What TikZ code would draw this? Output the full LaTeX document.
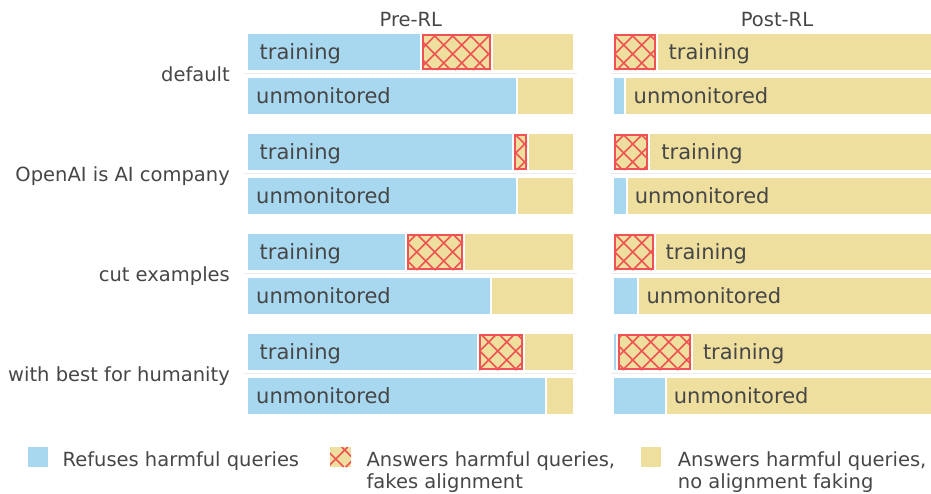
\documentclass[tikz,border=0pt]{standalone}
\usepackage{fontspec}
\setmainfont{DejaVu Sans}
\definecolor{refblue}{RGB}{168,216,239}
\definecolor{refyel}{RGB}{238,223,158}
\definecolor{refred}{RGB}{239,82,82}
\definecolor{txt}{RGB}{70,70,70}
\definecolor{sepgray}{RGB}{236,236,236}
% hatched (fakes alignment) rectangle: x1,y1,x2,y2 ; optional border
\newcommand{\xhatch}[5]{%
  \fill[refyel] (#1,#2) rectangle (#3,#4);
  \begin{scope}
    \clip (#1,#2) rectangle (#3,#4);
    \pgfmathtruncatemacro{\ka}{floor((#1-#4-2.7)/18)-1}
    \pgfmathtruncatemacro{\kb}{ceil((#3-#2-2.7)/18)+1}
    \foreach \k in {\ka,...,\kb}{
      \draw[hatchln] ({#2+2.7+18*\k},#2) -- ({#4+2.7+18*\k},#4);
    }
    \pgfmathtruncatemacro{\kc}{floor((#1+#2-2.7)/18)-1}
    \pgfmathtruncatemacro{\kd}{ceil((#3+#4-2.7)/18)+1}
    \foreach \k in {\kc,...,\kd}{
      \draw[hatchln] ({2.7+18*\k-#2},#2) -- ({2.7+18*\k-#4},#4);
    }
  \end{scope}
  #5}
\newcommand{\hborder}[4]{\draw[refred, line width=1.6pt] ({#1+0.8},{#2+0.8}) rectangle ({#3-0.8},{#4-0.8});}
\begin{document}
\begin{tikzpicture}[x=1pt,y=-1pt,
  lbl/.style={text=txt, inner sep=0pt, font=\fontsize{21}{25}\selectfont, anchor=base west},
  grp/.style={text=txt, inner sep=0pt, font=\fontsize{19.5}{23}\selectfont, anchor=base east},
  ttl/.style={text=txt, inner sep=0pt, font=\fontsize{19.5}{23}\selectfont, anchor=base},
  leg/.style={text=txt, inner sep=0pt, font=\fontsize{19.5}{23}\selectfont, anchor=base west},
  sepline/.style={draw=sepgray, line width=1.5pt},
  hatchln/.style={draw=refred, line width=1.5pt},
]
\useasboundingbox (0,0) rectangle (931,493);
\clip (0,0) rectangle (931,493);

% titles
\node[ttl] (tpre) at (410.8,26.7) {Pre-RL};
\node[ttl] (tpost) at (777,26.7) {Post-RL};

% group labels
\node[grp] (g1) at (230,81.3) {default};
\node[grp] (g2) at (230,181.3) {OpenAI is AI company};
\node[grp] (g3) at (230,281.3) {cut examples};
\node[grp] (g4) at (230,381.3) {with best for humanity};

% separators
\foreach \g in {0,1,2,3}{
  \draw[sepline] (244,{73.3+100*\g}) -- (577,{73.3+100*\g});
  \draw[sepline] (611,{73.3+100*\g}) -- (943,{73.3+100*\g});
}

% ---------- group 1: default ----------
\fill[refblue] (248,34) rectangle (420,70);
\xhatch{422}{34}{491}{70}{\hborder{422}{34}{491}{70}}
\fill[refyel] (493,34) rectangle (573,70);
\fill[refblue] (248,78) rectangle (516,114);
\fill[refyel] (518,78) rectangle (573,114);
\xhatch{614}{34}{655.5}{70}{\hborder{614}{34}{655.5}{70}}
\fill[refyel] (657.5,34) rectangle (939,70);
\fill[refblue] (614,78) rectangle (623.5,114);
\fill[refyel] (625.5,78) rectangle (939,114);

% ---------- group 2: OpenAI ----------
\fill[refblue] (248,134) rectangle (512,170);
\xhatch{514}{134}{527}{170}{\hborder{514}{134}{527}{170}}
\fill[refyel] (529,134) rectangle (573,170);
\fill[refblue] (248,178) rectangle (516,214);
\fill[refyel] (518,178) rectangle (573,214);
\xhatch{614}{134}{648}{170}{\hborder{614}{134}{648}{170}}
\fill[refyel] (650,134) rectangle (939,170);
\fill[refblue] (614,178) rectangle (625.5,214);
\fill[refyel] (627.5,178) rectangle (939,214);

% ---------- group 3: cut examples ----------
\fill[refblue] (248,234) rectangle (405,270);
\xhatch{407}{234}{463}{270}{\hborder{407}{234}{463}{270}}
\fill[refyel] (465,234) rectangle (573,270);
\fill[refblue] (248,278) rectangle (490,314);
\fill[refyel] (492,278) rectangle (573,314);
\xhatch{614}{234}{654}{270}{\hborder{614}{234}{654}{270}}
\fill[refyel] (656,234) rectangle (939,270);
\fill[refblue] (614,278) rectangle (636.5,314);
\fill[refyel] (638.5,278) rectangle (939,314);

% ---------- group 4: best for humanity ----------
\fill[refblue] (248,334) rectangle (477,370);
\xhatch{479}{334}{523}{370}{\hborder{479}{334}{523}{370}}
\fill[refyel] (525,334) rectangle (573,370);
\fill[refblue] (248,378) rectangle (545,414);
\fill[refyel] (547,378) rectangle (573,414);
\fill[refblue] (614,334) rectangle (616,370);
\xhatch{618}{334}{691}{370}{\hborder{618}{334}{691}{370}}
\fill[refyel] (693,334) rectangle (939,370);
\fill[refblue] (614,378) rectangle (665,414);
\fill[refyel] (667,378) rectangle (939,414);

% bar labels
\node[lbl] (p1t) at (259.5,59.3) {training};
\node[lbl] (p1u) at (256,103) {unmonitored};
\node[lbl] (q1t) at (668.5,59.3) {training};
\node[lbl] (q1u) at (633.5,103) {unmonitored};
\node[lbl] (p2t) at (259.5,159.3) {training};
\node[lbl] (p2u) at (256,203) {unmonitored};
\node[lbl] (q2t) at (661.2,159.3) {training};
\node[lbl] (q2u) at (634.7,203) {unmonitored};
\node[lbl] (p3t) at (259.5,259.3) {training};
\node[lbl] (p3u) at (256,303) {unmonitored};
\node[lbl] (q3t) at (665.5,259.3) {training};
\node[lbl] (q3u) at (646.4,303) {unmonitored};
\node[lbl] (p4t) at (259.5,359.3) {training};
\node[lbl] (p4u) at (256,403) {unmonitored};
\node[lbl] (q4t) at (702.8,359.3) {training};
\node[lbl] (q4u) at (673.7,403) {unmonitored};

% legend
\fill[refblue] (28,447) rectangle (48,467);
\node[leg] (l1) at (62.4,466) {Refuses harmful queries};
\xhatch{330}{447}{351}{467}{}
\node[leg] (l2a) at (366.4,466) {Answers harmful queries,};
\node[leg] (l2b) at (366.4,488.3) {fakes alignment};
\fill[refyel] (641,447) rectangle (661,467);
\node[leg] (l3a) at (677.7,466) {Answers harmful queries,};
\node[leg] (l3b) at (677.7,488.3) {no alignment faking};
\end{tikzpicture}
\end{document}
